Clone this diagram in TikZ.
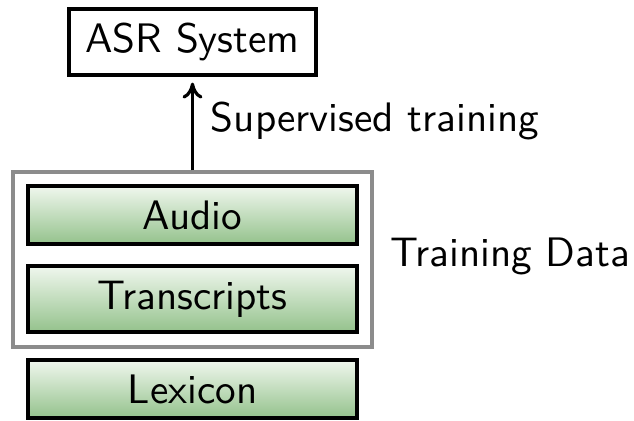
\documentclass[tikz,border=0pt]{standalone}
\usetikzlibrary{arrows.meta}
\definecolor{boxtop}{HTML}{F0F7EE}
\definecolor{boxbottom}{HTML}{94C28C}
\definecolor{framegray}{HTML}{8C8C8C}
\begin{document}
\begin{tikzpicture}[x=0.25pt,y=-0.25pt,
  font=\sffamily\fontsize{10.3}{12}\selectfont,
  databox/.style={draw=black, line width=0.8pt, top color=boxtop, bottom color=boxbottom,
    minimum width=82.25pt, inner sep=0pt},
  sysbox/.style={draw=black, line width=0.8pt, fill=white, minimum width=61.75pt,
    minimum height=16.5pt, inner sep=0pt},
  groupbox/.style={draw=framegray, line width=0.8pt, minimum width=89.75pt,
    minimum height=43.75pt, inner sep=0pt},
  lbl/.style={anchor=west, inner sep=0pt}]
  \useasboundingbox (0,0) rectangle (634,420);

  % training data frame and its contents
  \node[groupbox] (group) at (192.5,259.5) {};
  \node[databox, minimum height=14.5pt] (audio) at (192.5,215) {Audio};
  \node[databox, minimum height=16.5pt] (trans) at (192.5,299) {Transcripts};
  \node[databox, minimum height=14.5pt] (lex) at (192.5,389) {Lexicon};

  % recogniser on top
  \node[sysbox] (asr) at (192.5,42) {ASR System};

  % training arrow
  \draw[line width=0.8pt, -{To[length=4pt,width=5pt]}] (group.north) -- ([yshift=-1.5pt]asr.south);

  % labels
  \node[lbl] (sup) at (210,121) {Supervised training};
  \node[lbl] (td) at (390,256) {Training Data};
\end{tikzpicture}
\end{document}
